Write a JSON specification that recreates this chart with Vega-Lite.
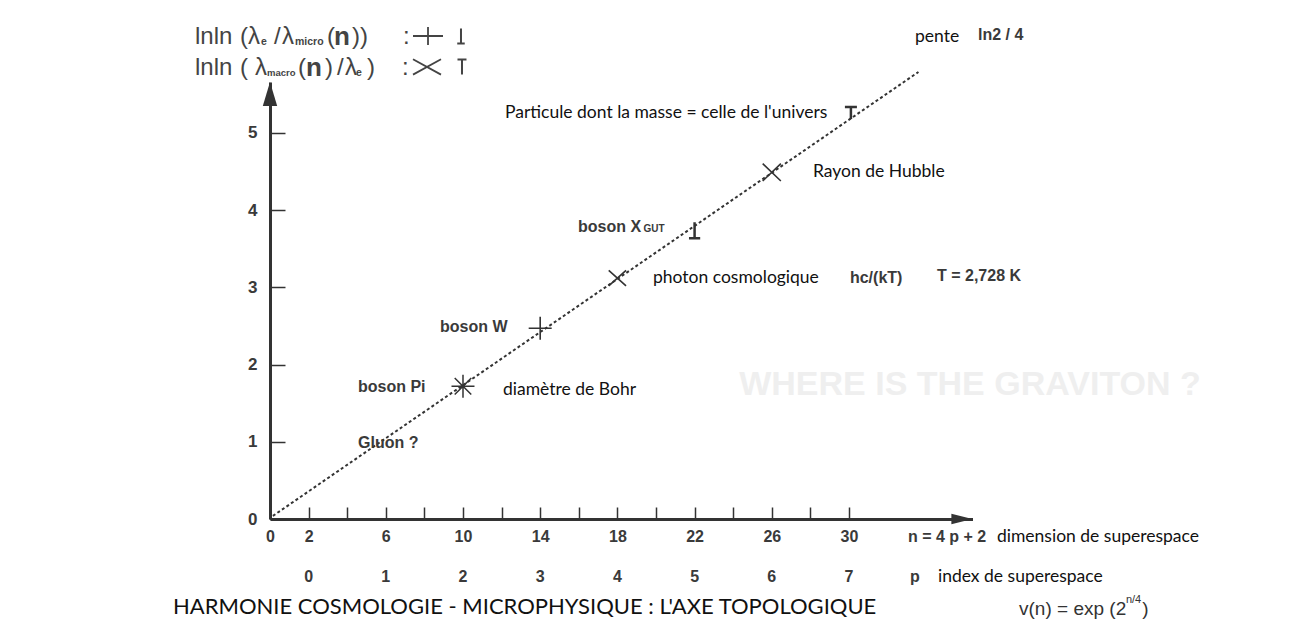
{
  "$schema": "https://vega.github.io/schema/vega-lite/v6.json",
  "width": 702.5,
  "height": 437,
  "autosize": {"type": "none"},
  "padding": {"left": 270, "top": 82, "right": 319.5, "bottom": 111},
  "background": "white",
  "config": {"view": {"stroke": null}},
  "datasets": {
    "line": [{"n": 0.15, "v": 0.04}, {"n": 33.6, "v": 5.79}],
    "markers": [
      {"n": 10, "v": 1.72, "kind": "star", "label": "boson Pi / diamètre de Bohr"},
      {"n": 14, "v": 2.47, "kind": "plus", "label": "boson W"},
      {"n": 18, "v": 3.12, "kind": "x", "label": "photon cosmologique"},
      {"n": 22, "v": 3.74, "kind": "tack", "label": "boson X GUT"},
      {"n": 26, "v": 4.49, "kind": "xbig", "label": "Rayon de Hubble"},
      {"n": 30.1, "v": 5.26, "kind": "tee", "label": "Particule masse univers"},
      {"n": 8.187, "v": 6.256, "kind": "legplus", "label": "legend +"},
      {"n": 9.896, "v": 6.256, "kind": "legtack", "label": "legend ⊥"},
      {"n": 8.135, "v": 5.855, "kind": "legx", "label": "legend ×"},
      {"n": 9.948, "v": 5.855, "kind": "legtee", "label": "legend T"}
    ],
    "arrows": [
      {"n": 35.85, "v": 0, "dir": "x"},
      {"n": 0, "v": 5.505, "dir": "y"}
    ],
    "plabels": [
      {"n": 2, "v": -0.751, "text": "0"},
      {"n": 6, "v": -0.751, "text": "1"},
      {"n": 10, "v": -0.751, "text": "2"},
      {"n": 14, "v": -0.751, "text": "3"},
      {"n": 18, "v": -0.751, "text": "4"},
      {"n": 22, "v": -0.751, "text": "5"},
      {"n": 26, "v": -0.751, "text": "6"},
      {"n": 30, "v": -0.751, "text": "7"}
    ],
    "texts": [
      {"n": 36.269, "v": 1.736, "text": "WHERE IS THE GRAVITON ?", "style": "ghost"},
      {"n": -3.886, "v": 6.244, "text": "lnln", "style": "leg"},
      {"n": -1.554, "v": 6.244, "text": "(", "style": "leg"},
      {"n": -1.14, "v": 6.244, "text": "λ", "style": "leg"},
      {"n": 0.207, "v": 6.244, "text": "/", "style": "leg"},
      {"n": 0.622, "v": 6.244, "text": "λ", "style": "leg"},
      {"n": 2.953, "v": 6.244, "text": "(", "style": "leg"},
      {"n": 4.249, "v": 6.244, "text": "))", "style": "leg"},
      {"n": 6.891, "v": 6.244, "text": ":", "style": "leg"},
      {"n": -0.466, "v": 6.179, "text": "e", "style": "legsub"},
      {"n": 1.295, "v": 6.179, "text": "micro", "style": "legsub"},
      {"n": 3.316, "v": 6.244, "text": "n", "style": "legn"},
      {"n": -3.886, "v": 5.842, "text": "lnln", "style": "leg"},
      {"n": -1.554, "v": 5.842, "text": "(", "style": "leg"},
      {"n": -0.777, "v": 5.842, "text": "λ", "style": "leg"},
      {"n": 1.451, "v": 5.842, "text": "(", "style": "leg"},
      {"n": 2.85, "v": 5.842, "text": ")", "style": "leg"},
      {"n": 3.47, "v": 5.842, "text": "/", "style": "leg"},
      {"n": 3.886, "v": 5.842, "text": "λ", "style": "leg"},
      {"n": 5.026, "v": 5.842, "text": ")", "style": "leg"},
      {"n": 6.839, "v": 5.842, "text": ":", "style": "leg"},
      {"n": -0.155, "v": 5.777, "text": "macro", "style": "legsub2"},
      {"n": 4.456, "v": 5.777, "text": "e", "style": "legsub"},
      {"n": 1.865, "v": 5.842, "text": "n", "style": "legn"},
      {"n": 33.42, "v": 6.244, "text": "pente", "style": "cal"},
      {"n": 36.684, "v": 6.269, "text": "ln2 / 4", "style": "hb"},
      {"n": 12.176, "v": 5.259, "text": "Particule dont la masse = celle de l'univers", "style": "cal"},
      {"n": 28.135, "v": 4.495, "text": "Rayon de Hubble", "style": "cal"},
      {"n": 15.959, "v": 3.782, "text": "boson X", "style": "hb"},
      {"n": 19.35, "v": 3.756, "text": "GUT", "style": "hbsub"},
      {"n": 19.845, "v": 3.122, "text": "photon cosmologique", "style": "cal"},
      {"n": 30.05, "v": 3.122, "text": "hc/(kT)", "style": "hb"},
      {"n": 34.56, "v": 3.148, "text": "T = 2,728 K", "style": "hb"},
      {"n": 8.808, "v": 2.487, "text": "boson W", "style": "hb"},
      {"n": 4.56, "v": 1.71, "text": "boson Pi", "style": "hb"},
      {"n": 12.073, "v": 1.671, "text": "diamètre de Bohr", "style": "cal"},
      {"n": 4.56, "v": 0.984, "text": "Gluon  ?", "style": "hb"},
      {"n": 33.057, "v": -0.233, "text": "n = 4 p + 2", "style": "hb"},
      {"n": 37.668, "v": -0.233, "text": "dimension de superespace", "style": "cal"},
      {"n": 33.161, "v": -0.751, "text": "p", "style": "hb"},
      {"n": 34.611, "v": -0.751, "text": "index de superespace", "style": "cal"},
      {"n": -5.026, "v": -1.14, "text": "HARMONIE COSMOLOGIE - MICROPHYSIQUE : L'AXE TOPOLOGIQUE", "style": "title"},
      {"n": 38.81, "v": -1.166, "text": "v(n) = exp (2", "style": "form"},
      {"n": 44.35, "v": -1.049, "text": "n/4", "style": "legsup"},
      {"n": 45.2, "v": -1.166, "text": ")", "style": "form"}
    ]
  },
  "encoding": {
    "x": {
      "field": "n",
      "type": "quantitative",
      "scale": {"domain": [0, 36.4], "nice": false, "zero": false},
      "axis": {
        "title": null,
        "grid": false,
        "values": [0, 2, 4, 6, 8, 10, 12, 14, 16, 18, 20, 22, 24, 26, 28, 30],
        "labelExpr": "datum.value == 0 || (datum.value - 2) % 4 == 0 ? datum.label : ''",
        "domainColor": "#333333",
        "domainWidth": 3,
        "tickColor": "#333333",
        "tickWidth": 1.5,
        "tickSize": -12,
        "labelPadding": 21,
        "labelFont": "Liberation Sans",
        "labelFontWeight": "bold",
        "labelFontSize": 16,
        "labelColor": "#3a3a3a",
        "labelFlush": false,
        "labelOverlap": false
      }
    },
    "y": {
      "field": "v",
      "type": "quantitative",
      "scale": {"domain": [0, 5.66], "nice": false, "zero": false},
      "axis": {
        "title": null,
        "grid": false,
        "values": [0, 1, 2, 3, 4, 5],
        "domainColor": "#333333",
        "domainWidth": 3,
        "tickColor": "#333333",
        "tickWidth": 1.5,
        "tickSize": -15,
        "labelPadding": 28,
        "labelFont": "Liberation Sans",
        "labelFontWeight": "bold",
        "labelFontSize": 17,
        "labelColor": "#3a3a3a",
        "labelFlush": false,
        "labelOverlap": false
      }
    }
  },
  "layer": [
    {
      "data": {"name": "texts"},
      "transform": [{"filter": "datum.style == 'ghost'"}],
      "mark": {"type": "text", "align": "center", "baseline": "middle", "font": "Liberation Sans", "fontWeight": "bold", "fontSize": 34, "color": "#efefef"},
      "encoding": {"text": {"field": "text"}}
    },
    {
      "data": {"name": "line"},
      "mark": {"type": "line", "color": "#333333", "strokeWidth": 2, "strokeDash": [3, 2.5]}
    },
    {
      "data": {"name": "arrows"},
      "transform": [{"filter": "datum.dir == 'x'"}],
      "mark": {"type": "point", "shape": "M-1,-0.5L1,0L-1,0.5Z", "size": 441, "filled": true, "color": "#333333", "opacity": 1}
    },
    {
      "data": {"name": "arrows"},
      "transform": [{"filter": "datum.dir == 'y'"}],
      "mark": {"type": "point", "shape": "M-0.6,1L0,-1L0.6,1Z", "size": 576, "filled": true, "color": "#333333", "opacity": 1}
    },
    {
      "data": {"name": "markers"},
      "transform": [{"filter": "datum.kind == 'star'"}],
      "mark": {"type": "point", "shape": "M-1,0L1,0M0,-1L0,1M-0.72,-0.72L0.72,0.72M-0.72,0.72L0.72,-0.72", "size": 529, "filled": false, "color": "#333333", "strokeWidth": 1.5, "opacity": 1}
    },
    {
      "data": {"name": "markers"},
      "transform": [{"filter": "datum.kind == 'plus'"}],
      "mark": {"type": "point", "shape": "M-1,0L1,0M0,-1L0,1", "size": 529, "filled": false, "color": "#333333", "strokeWidth": 1.6, "opacity": 1}
    },
    {
      "data": {"name": "markers"},
      "transform": [{"filter": "datum.kind == 'x'"}],
      "mark": {"type": "point", "shape": "M-1,-0.9L1,0.9M-1,0.9L1,-0.9", "size": 300, "filled": false, "color": "#333333", "strokeWidth": 1.6, "opacity": 1}
    },
    {
      "data": {"name": "markers"},
      "transform": [{"filter": "datum.kind == 'xbig'"}],
      "mark": {"type": "point", "shape": "M-1,-0.95L1,0.95M-1,0.95L1,-0.95", "size": 330, "filled": false, "color": "#333333", "strokeWidth": 1.6, "opacity": 1}
    },
    {
      "data": {"name": "markers"},
      "transform": [{"filter": "datum.kind == 'tack'"}],
      "mark": {"type": "point", "shape": "M0,-1L0,1M-0.7,1L0.7,1", "size": 256, "filled": false, "color": "#333333", "strokeWidth": 2.5, "opacity": 1}
    },
    {
      "data": {"name": "markers"},
      "transform": [{"filter": "datum.kind == 'tee'"}],
      "mark": {"type": "point", "shape": "M-1,-1L1,-1M0,-1L0,1", "size": 144, "filled": false, "color": "#333333", "strokeWidth": 2.5, "opacity": 1}
    },
    {
      "data": {"name": "markers"},
      "transform": [{"filter": "datum.kind == 'legplus'"}],
      "mark": {"type": "point", "shape": "M-1,0L1,0M0,-0.6L0,0.6", "size": 900, "filled": false, "color": "#444444", "strokeWidth": 1.8, "opacity": 1}
    },
    {
      "data": {"name": "markers"},
      "transform": [{"filter": "datum.kind == 'legx'"}],
      "mark": {"type": "point", "shape": "M-1,-0.55L1,0.55M-1,0.55L1,-0.55", "size": 784, "filled": false, "color": "#444444", "strokeWidth": 1.8, "opacity": 1}
    },
    {
      "data": {"name": "markers"},
      "transform": [{"filter": "datum.kind == 'legtack'"}],
      "mark": {"type": "point", "shape": "M0,-1L0,1M-0.5,1L0.5,1", "size": 225, "filled": false, "color": "#444444", "strokeWidth": 2, "opacity": 1}
    },
    {
      "data": {"name": "markers"},
      "transform": [{"filter": "datum.kind == 'legtee'"}],
      "mark": {"type": "point", "shape": "M-0.6,-1L0.6,-1M0,-1L0,1", "size": 225, "filled": false, "color": "#444444", "strokeWidth": 2, "opacity": 1}
    },
    {
      "data": {"name": "plabels"},
      "mark": {"type": "text", "align": "center", "baseline": "middle", "font": "Liberation Sans", "fontWeight": "bold", "fontSize": 16, "color": "#3a3a3a"},
      "encoding": {"text": {"field": "text"}}
    },
    {
      "data": {"name": "texts"},
      "transform": [{"filter": "datum.style == 'leg'"}],
      "mark": {"type": "text", "align": "left", "baseline": "middle", "font": "Liberation Sans", "fontSize": 24, "color": "#444444"},
      "encoding": {"text": {"field": "text"}}
    },
    {
      "data": {"name": "texts"},
      "transform": [{"filter": "datum.style == 'form'"}],
      "mark": {"type": "text", "align": "left", "baseline": "middle", "font": "Liberation Sans", "fontSize": 19, "color": "#333333"},
      "encoding": {"text": {"field": "text"}}
    },
    {
      "data": {"name": "texts"},
      "transform": [{"filter": "datum.style == 'legsub'"}],
      "mark": {"type": "text", "align": "left", "baseline": "middle", "font": "Liberation Sans", "fontWeight": "bold", "fontSize": 10.5, "color": "#444444"},
      "encoding": {"text": {"field": "text"}}
    },
    {
      "data": {"name": "texts"},
      "transform": [{"filter": "datum.style == 'legsub2'"}],
      "mark": {"type": "text", "align": "left", "baseline": "middle", "font": "Liberation Sans", "fontWeight": "bold", "fontSize": 9.5, "color": "#444444"},
      "encoding": {"text": {"field": "text"}}
    },
    {
      "data": {"name": "texts"},
      "transform": [{"filter": "datum.style == 'legsup'"}],
      "mark": {"type": "text", "align": "left", "baseline": "middle", "font": "Liberation Sans", "fontSize": 11, "color": "#333333"},
      "encoding": {"text": {"field": "text"}}
    },
    {
      "data": {"name": "texts"},
      "transform": [{"filter": "datum.style == 'legn'"}],
      "mark": {"type": "text", "align": "left", "baseline": "middle", "font": "Liberation Sans", "fontWeight": "bold", "fontSize": 26, "color": "#444444"},
      "encoding": {"text": {"field": "text"}}
    },
    {
      "data": {"name": "texts"},
      "transform": [{"filter": "datum.style == 'hb'"}],
      "mark": {"type": "text", "align": "left", "baseline": "middle", "font": "Liberation Sans", "fontWeight": "bold", "fontSize": 16, "color": "#3a3a3a"},
      "encoding": {"text": {"field": "text"}}
    },
    {
      "data": {"name": "texts"},
      "transform": [{"filter": "datum.style == 'hbsub'"}],
      "mark": {"type": "text", "align": "left", "baseline": "middle", "font": "Liberation Sans", "fontWeight": "bold", "fontSize": 10, "color": "#3a3a3a"},
      "encoding": {"text": {"field": "text"}}
    },
    {
      "data": {"name": "texts"},
      "transform": [{"filter": "datum.style == 'cal'"}],
      "mark": {"type": "text", "align": "left", "baseline": "middle", "font": "Lato", "fontSize": 17.5, "color": "#111111"},
      "encoding": {"text": {"field": "text"}}
    },
    {
      "data": {"name": "texts"},
      "transform": [{"filter": "datum.style == 'title'"}],
      "mark": {"type": "text", "align": "left", "baseline": "middle", "font": "Lato", "fontSize": 22, "color": "#111111"},
      "encoding": {"text": {"field": "text"}}
    }
  ]
}
